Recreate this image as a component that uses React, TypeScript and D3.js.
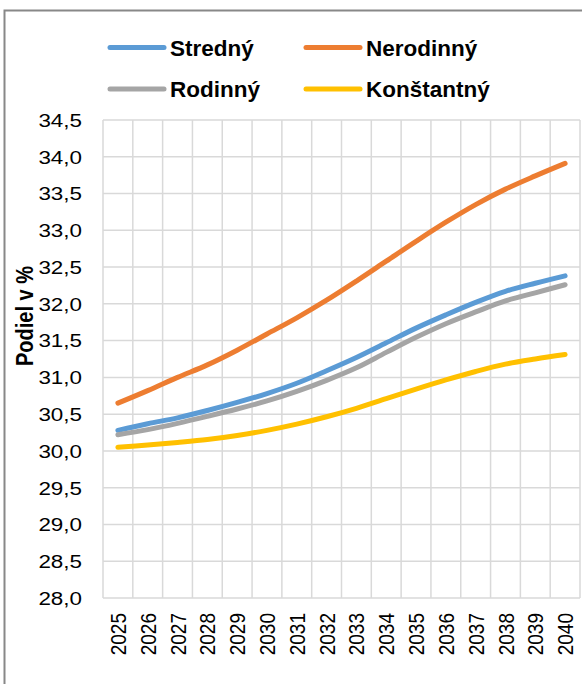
import * as d3 from "d3";

const years = ["2025","2026","2027","2028","2029","2030","2031","2032","2033","2034","2035","2036","2037","2038","2039","2040"];

const stredny = [30.28, 30.37, 30.45, 30.55, 30.66, 30.78, 30.92, 31.09, 31.27, 31.47, 31.67, 31.85, 32.02, 32.17, 32.28, 32.38];
const nerodinny = [30.65, 30.82, 31.0, 31.17, 31.37, 31.59, 31.81, 32.05, 32.31, 32.58, 32.85, 33.11, 33.35, 33.56, 33.74, 33.91];
const rodinny = [30.22, 30.29, 30.375, 30.47, 30.57, 30.68, 30.81, 30.96, 31.13, 31.34, 31.545, 31.73, 31.89, 32.04, 32.15, 32.26];
const konstantny = [30.05, 30.08, 30.115, 30.155, 30.21, 30.28, 30.365, 30.465, 30.58, 30.71, 30.84, 30.965, 31.08, 31.18, 31.25, 31.31];

const yTicks = [28, 28.5, 29, 29.5, 30, 30.5, 31, 31.5, 32, 32.5, 33, 33.5, 34, 34.5];

const series = [
  { name: "Stredný", values: stredny, color: "#5b9bd5" },
  { name: "Nerodinný", values: nerodinny, color: "#ed7d31" },
  { name: "Rodinný", values: rodinny, color: "#a5a5a5" },
  { name: "Konštantný", values: konstantny, color: "#ffc000" },
];

// axis text in the picture is a bit wider than the font, so stretch it sideways
const sx = 1.18;
const font = "'Liberation Sans', Arial, sans-serif";

export default function App() {
  const width = 582;
  const height = 684;
  const plot = { left: 103, right: 580, top: 120, bottom: 598 };

  const x = d3.scaleBand().domain(years).range([plot.left, plot.right]);
  const y = d3.scaleLinear().domain([28, 34.5]).range([plot.bottom, plot.top]);

  const line = d3.line<number>()
    .x((d, i) => x(years[i])! + x.bandwidth() / 2)
    .y(d => y(d))
    .curve(d3.curveCatmullRom.alpha(0.5));

  // legend positions
  const legendPos = [
    { lx: 110, ly: 47.5 },
    { lx: 306, ly: 47.5 },
    { lx: 110, ly: 89 },
    { lx: 306, ly: 89 },
  ];

  return (
    <svg width={width} height={height} style={{ position: "absolute", left: 0, top: 0, background: "#fff" }} fontFamily={font}>
      <rect x={0} y={0} width={width} height={height} fill="#fff" />
      {/* chart border */}
      <rect x={4.5} y={10.5} width={width + 10} height={height + 10} fill="none" stroke="#888" strokeWidth={2} />

      {/* gridlines */}
      <g stroke="#d9d9d9" strokeWidth={1.5}>
        {yTicks.map(t => (
          <line key={"h" + t} x1={plot.left} x2={plot.right} y1={y(t)} y2={y(t)} />
        ))}
        {years.map(yr => (
          <line key={"v" + yr} x1={x(yr)} x2={x(yr)} y1={plot.top} y2={plot.bottom} />
        ))}
        <line x1={plot.right} x2={plot.right} y1={plot.top} y2={plot.bottom} />
      </g>

      {/* y tick labels */}
      <g fontSize={19} fill="#000" textAnchor="end">
        {yTicks.map(t => (
          <text key={t} transform={`translate(82,${y(t)}) scale(${sx},1)`} dy="0.36em">
            {t.toFixed(1).replace(".", ",")}
          </text>
        ))}
      </g>

      {/* x tick labels */}
      <g fontSize={19} fill="#000" textAnchor="end">
        {years.map(yr => (
          <text key={yr} transform={`translate(${x(yr)! + x.bandwidth() / 2},613) scale(${sx},1) rotate(-90)`} dy="0.36em">
            {yr}
          </text>
        ))}
      </g>

      {/* axis title */}
      <text transform={`translate(25,316) scale(${sx},1) rotate(-90)`} textAnchor="middle" dy="0.36em" fontSize={20} fontWeight="bold" fill="#000">
        Podiel v %
      </text>

      {/* lines */}
      {series.map(s => (
        <path key={s.name} d={line(s.values) ?? ""} fill="none" stroke={s.color} strokeWidth={5} strokeLinecap="round" strokeLinejoin="round" />
      ))}

      {/* legend */}
      {series.map((s, i) => {
        const p = legendPos[i];
        return (
          <g key={s.name}>
            <line x1={p.lx} x2={p.lx + 54} y1={p.ly} y2={p.ly} stroke={s.color} strokeWidth={5} strokeLinecap="round" />
            <text transform={`translate(${p.lx + 60},${p.ly})`} dy="0.36em" fontSize={22.5} fontWeight="bold" fill="#000">
              {s.name}
            </text>
          </g>
        );
      })}
    </svg>
  );
}
